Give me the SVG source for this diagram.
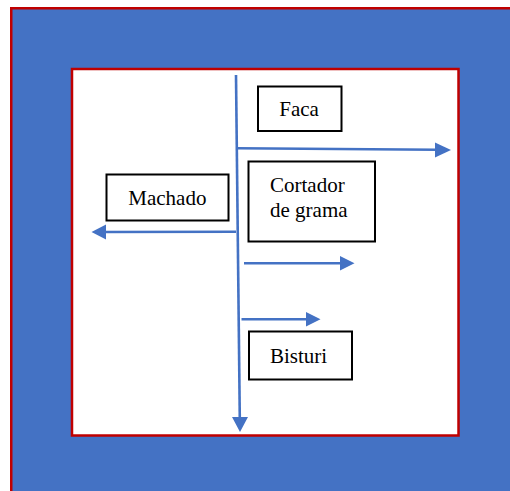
<svg xmlns="http://www.w3.org/2000/svg" width="510" height="491" viewBox="0 0 510 491">
<style>
.box{fill:#fff;stroke:#000;stroke-width:2}
.lbl{font-family:"Liberation Serif","Times New Roman",serif;font-size:21px;fill:#000}
.con{stroke:#4472C4;stroke-width:2.6;fill:none}
.head{fill:#4472C4}
</style>
<rect x="11.25" y="8.25" width="520" height="500" fill="#4472C4" stroke="#C00000" stroke-width="2.5"/>
<rect x="72" y="69" width="386.5" height="366.5" fill="#fff" stroke="#C00000" stroke-width="2.5"/>
<g id="connectors">
<line class="con" x1="236" y1="75" x2="239.8" y2="419"/>
<polygon class="head" points="232,417 248,417 240,432"/>
<line class="con" x1="237" y1="148.3" x2="437" y2="149.8"/>
<polygon class="head" points="435,142.5 451,150 435,157.5"/>
<line class="con" x1="236" y1="231.8" x2="104" y2="232"/>
<polygon class="head" points="106,224.5 91.5,232 106,239.5"/>
<line class="con" x1="244" y1="263.3" x2="342" y2="263.3"/>
<polygon class="head" points="340,256 354.5,263.3 340,270.6"/>
<line class="con" x1="241.5" y1="319.3" x2="308" y2="319.3"/>
<polygon class="head" points="306,312 320.5,319.3 306,326.6"/>
</g>
<g id="faca">
<rect class="box" x="258" y="86.5" width="83.5" height="44.5"/>
<text class="lbl" x="279.3" y="116">Faca</text>
</g>
<g id="cortador">
<rect class="box" x="248.5" y="161.5" width="126.5" height="80"/>
<text class="lbl" x="270" y="191.5">Cortador</text>
<text class="lbl" x="270" y="216.7">de grama</text>
</g>
<g id="machado">
<rect class="box" x="106.5" y="174.5" width="122" height="46"/>
<text class="lbl" x="128.3" y="205">Machado</text>
</g>
<g id="bisturi">
<rect class="box" x="249" y="331.5" width="103" height="48"/>
<text class="lbl" x="270" y="363.3">Bisturi</text>
</g>
</svg>
